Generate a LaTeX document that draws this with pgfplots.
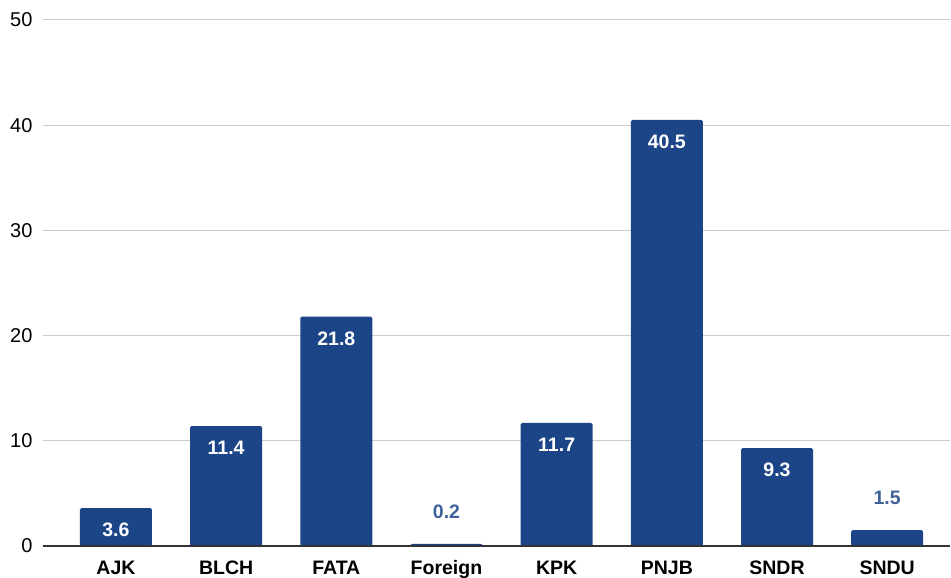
\documentclass[border=0pt]{standalone}
\usepackage{fontspec}
\setmainfont{Liberation Sans}
\usepackage{pgfplots}
\pgfplotsset{compat=1.18}
\usepackage{pgfplotstable}
\definecolor{barblue}{HTML}{1C4587}
\definecolor{gridgray}{HTML}{CCCCCC}
\definecolor{axisdark}{HTML}{333333}
\pgfplotstableread{
x y
0 3.6
1 11.4
2 21.8
3 0.2
4 11.7
5 40.5
6 9.3
7 1.5
}\alldata
\pgfplotstableread{
x y
0 3.6
1 11.4
2 21.8
4 11.7
5 40.5
6 9.3
}\insidedata
\pgfplotstableread{
x y
3 0.2
7 1.5
}\outsidedata
\begin{document}
\begin{tikzpicture}
\begin{axis}[
  scale only axis,
  width=907pt, height=526pt,
  xmin=-0.662, xmax=7.57,
  ymin=0, ymax=50,
  ytick={0,10,...,50},
  xtick={0,...,7},
  xticklabels={AJK,BLCH,FATA,Foreign,KPK,PNJB,SNDR,SNDU},
  axis line style={draw=none},
  major tick length=0pt,
  ymajorgrids,
  grid style={gridgray, line width=1pt},
  /pgf/number format/assume math mode=true,
  yticklabel style={font=\fontsize{20}{22}\selectfont, color=black, xshift=-7pt},
  xticklabel style={font=\fontsize{19.5}{22}\selectfont\bfseries, color=black, anchor=base, yshift=-29pt},
  clip=false,
]
\addplot[ybar, bar width=72pt, bar shift=0pt, fill=barblue, draw=none, rounded corners=1.5pt] table[x=x,y=y] {\alldata};
\draw[axisdark, line width=1.5pt] (axis cs:-0.662,0) -- (axis cs:7.57,0);
\addplot[draw=none, mark=none, nodes near coords, point meta=explicit symbolic,
  every node near coord/.style={anchor=center, yshift=-22pt, text=white, font=\fontsize{19.5}{22}\selectfont\bfseries}]
  table[x=x,y=y,meta=y] {\insidedata};
\addplot[draw=none, mark=none, nodes near coords, point meta=explicit symbolic,
  every node near coord/.style={anchor=center, yshift=32pt, text=barblue!85!white, font=\fontsize{19.5}{22}\selectfont\bfseries}]
  table[x=x,y=y,meta=y] {\outsidedata};
\end{axis}
\pgfresetboundingbox
\path[use as bounding box] (current axis.south west) ++(-43pt,-32pt) rectangle ++(951pt,578pt);
\end{tikzpicture}
\end{document}
